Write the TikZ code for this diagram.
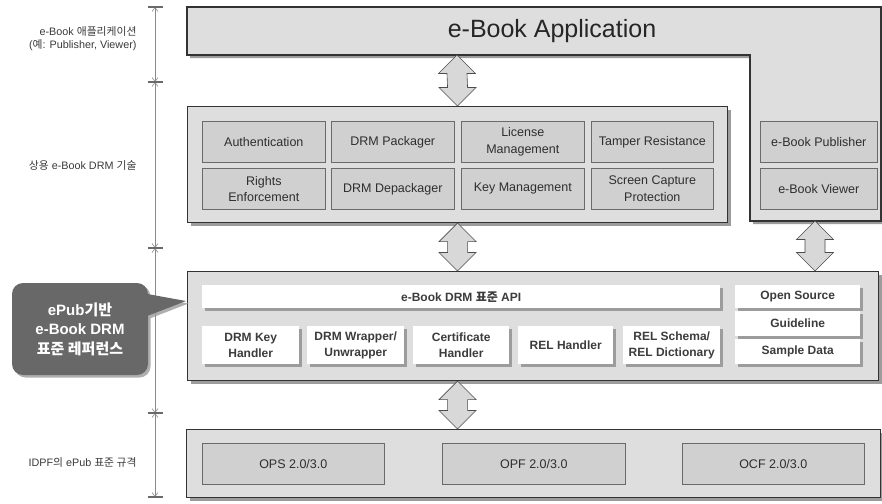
\documentclass[tikz,border=0pt]{standalone}
\usepackage{fontspec}
\setmainfont{Liberation Sans}
\newfontfamily\kr{Noto Sans CJK KR}
\usetikzlibrary{shadows,arrows.meta,calc}
\definecolor{layerfill}{HTML}{DEDEDE}
\definecolor{modfill}{HTML}{D0D0D0}
\definecolor{edgec}{HTML}{333333}
\definecolor{modedge}{HTML}{6A6A6A}
\definecolor{shadowc}{HTML}{9C9C9C}
\definecolor{txtc}{HTML}{2E2E2E}
\definecolor{apitxt}{HTML}{3C3C3C}
\definecolor{lblc}{HTML}{3A3A3A}
\definecolor{calloutc}{HTML}{686868}
\definecolor{arrowfill}{HTML}{D8D8D8}
\definecolor{dimc}{HTML}{8A8A8A}
\definecolor{tickc}{HTML}{6A6A6A}
\newcommand\blockarrow[2]{%
  \draw[barrow] (#1) -- ($(#1)+(18.5,18.5)$) -- ($(#1)+(10,18.5)$)
    -- ($(#2)+(10,-18.5)$) -- ($(#2)+(18.5,-18.5)$) -- (#2)
    -- ($(#2)+(-18.5,-18.5)$) -- ($(#2)+(-10,-18.5)$)
    -- ($(#1)+(-10,18.5)$) -- ($(#1)+(-18.5,18.5)$) -- cycle;}
\begin{document}
\begin{tikzpicture}[x=1pt,y=-1pt,
  layershadow/.style={drop shadow={shadow xshift=3pt,shadow yshift=-3pt,fill=shadowc,opacity=1}},
  layerpath/.style={draw=edgec,line width=1.1pt,fill=layerfill,layershadow},
  layer/.style={layerpath,anchor=north west,inner sep=0pt},
  mod/.style={draw=modedge,line width=0.6pt,fill=modfill,anchor=north west,inner sep=0pt,
    align=center,text=txtc,font=\fontsize{12.5}{16.5}\selectfont},
  wbox/.style={fill=white,anchor=north west,inner sep=0pt,align=center,text=apitxt,
    font=\bfseries\fontsize{12}{16.5}\selectfont,
    drop shadow={shadow xshift=2.5pt,shadow yshift=-2.5pt,fill=shadowc,opacity=1}},
  barrow/.style={draw=black!70,line width=0.6pt,fill=arrowfill,line join=miter},
  lbl/.style={anchor=east,align=right,text=lblc,font=\fontsize{10.8}{13}\selectfont},
  dim/.style={draw=dimc,line width=0.6pt,{Straight Barb[length=4pt,width=6pt]}-{Straight Barb[length=4pt,width=6pt]}},
  tick/.style={draw=tickc,line width=1.6pt}]
\useasboundingbox (0,0) rectangle (882,503);
\fill[white] (0,0) rectangle (882,503);

% dimension line
\coordinate (d0) at (155,7);
\coordinate (d1) at (155,82);
\coordinate (d2) at (155,248);
\coordinate (d3) at (155,413);
\coordinate (d4) at (155,497);
\draw[dim] (d0) -- (d1);
\draw[dim] (d1) -- (d2);
\draw[dim] (d2) -- (d3);
\draw[dim] (d3) -- (d4);
\foreach \d in {d0,d1,d2,d3,d4}{\draw[tick] ($(\d)+(-7.5,0)$) -- ($(\d)+(7.5,0)$);}

% left labels
\node[lbl] (l1) at (140,39) {e-Book {\kr 애플리케이션}\\({\kr 예}: Publisher, Viewer)};
\node[lbl] (l2) at (140,165) {{\kr 상용} e-Book DRM {\kr 기술}};
\node[lbl] (l3) at (140,462) {IDPF{\kr 의} ePub {\kr 표준 규격}};

% application layer
\path[layerpath] (187,7) -- (881,7) -- (881,221) -- (750,221) -- (750,55) -- (187,55) -- cycle;
\node[text=black!85,font=\fontsize{25}{30}\selectfont] (apptitle) at (552,31) {e-Book Application};
\coordinate (appb) at (457,55);
\coordinate (appr) at (815,221);
\node[mod,minimum width=117pt,minimum height=41pt] (pub) at (760,121) {e-Book Publisher};
\node[mod,minimum width=117pt,minimum height=41pt] (view) at (760,168) {e-Book Viewer};

% DRM layer
\node[layer,minimum width=540pt,minimum height=116pt] (drm) at (187,106) {};
\node[mod,minimum width=123pt,minimum height=41pt] (auth) at (202,121) {Authentication};
\node[mod,minimum width=123pt,minimum height=41pt] (pack) at (331,121) {DRM Packager};
\node[mod,minimum width=123pt,minimum height=41pt] (lic) at (461,121) {License\\Management};
\node[mod,minimum width=122pt,minimum height=41pt] (tamp) at (591,121) {Tamper Resistance};
\node[mod,minimum width=123pt,minimum height=41pt] (rights) at (202,168) {Rights\\Enforcement};
\node[mod,minimum width=123pt,minimum height=41pt] (depack) at (331,168) {DRM Depackager};
\node[mod,minimum width=123pt,minimum height=41pt] (keym) at (461,168) {Key Management};
\node[mod,minimum width=122pt,minimum height=41pt] (scr) at (591,168) {Screen Capture\\Protection};

% API layer
\node[layer,minimum width=691pt,minimum height=109pt] (api) at (187,271) {};
\node[wbox,minimum width=518pt,minimum height=23pt] (apibar) at (202,285) {e-Book DRM {\kr\bfseries 표준} API};
\node[wbox,minimum width=125pt,minimum height=23pt] (os) at (735,285) {Open Source};
\node[wbox,minimum width=125pt,minimum height=25pt] (guide) at (735,311) {Guideline};
\node[wbox,minimum width=125pt,minimum height=25pt] (sample) at (735,339) {Sample Data};
\node[wbox,minimum width=97pt,minimum height=38pt] (h1) at (202,326) {DRM Key\\Handler};
\node[wbox,minimum width=97pt,minimum height=38pt] (h2) at (307,326) {DRM Wrapper/\\Unwrapper};
\node[wbox,minimum width=96pt,minimum height=38pt] (h3) at (413,326) {Certificate\\Handler};
\node[wbox,minimum width=95pt,minimum height=38pt] (h4) at (518,326) {REL Handler};
\node[wbox,minimum width=97pt,minimum height=38pt] (h5) at (623,326) {REL Schema/\\REL Dictionary};

% IDPF layer
\node[layer,minimum width=694pt,minimum height=68pt] (idpf) at (186,429) {};
\node[mod,minimum width=182pt,minimum height=41pt] (ops) at (202,443) {OPS 2.0/3.0};
\node[mod,minimum width=183pt,minimum height=41pt] (opf) at (442,443) {OPF 2.0/3.0};
\node[mod,minimum width=182pt,minimum height=41pt] (ocf) at (682,443) {OCF 2.0/3.0};

% block arrows
\coordinate (a1b) at (drm.north);
\coordinate (a2t) at (drm.south);
\coordinate (a2b) at (api.north -| drm.south);
\coordinate (a3b) at (api.north -| appr);
\coordinate (a4t) at (api.south -| drm.south);
\coordinate (a4b) at (idpf.north -| drm.south);
\blockarrow{appb}{a1b}
\blockarrow{a2t}{a2b}
\blockarrow{appr}{a3b}
\blockarrow{a4t}{a4b}

% callout
\coordinate (cnw) at (12,283);
\coordinate (cse) at (148,375);
\coordinate (tip) at ($(api.north west)+(-1,30)$);
\path[fill=calloutc,drop shadow={shadow xshift=2.5pt,shadow yshift=-2.5pt,fill=shadowc,opacity=0.8}]
  [rounded corners=11pt] (cnw) rectangle (cse)
  [sharp corners] ($(cse)+(-6,-57)$) -- (tip) -- ($(cse)+(-6,-82)$) -- cycle;
\node[text=white,align=center,font=\bfseries\fontsize{15}{19.5}\selectfont] (ref) at ($(cnw)!0.5!(cse)$)
  {ePub{\kr\bfseries 기반}\\e-Book DRM\\{\kr\bfseries 표준 레퍼런스}};
\end{tikzpicture}
\end{document}
